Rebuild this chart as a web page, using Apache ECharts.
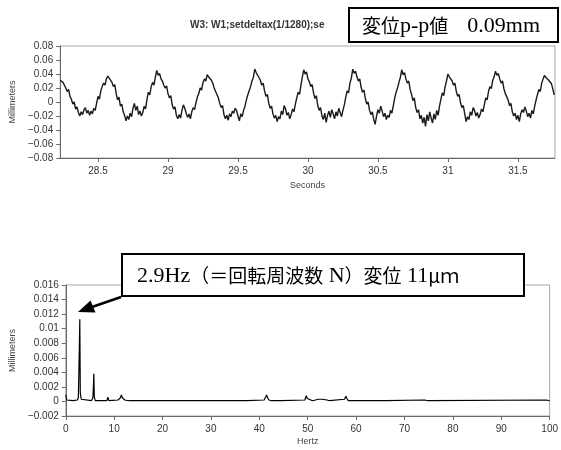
<!DOCTYPE html>
<html><head><meta charset="utf-8">
<script src="https://cdn.jsdelivr.net/npm/echarts@6/dist/echarts.min.js"></script>
<style>html,body{margin:0;padding:0;background:#fff}#c{width:561px;height:450px}</style>
</head><body><div id="c"></div>
<script>
// ---- text ----
const titleText = 'W3: W1;setdeltax(1/1280);se';
const topXName = 'Seconds';
const bottomXName = 'Hertz';
const yName = 'Millimeters';

// ---- time signal: sampled displacement (micrometres), one value per sample ----
const timeStart = 28.23;   // s
const timeStep = 0.01;     // s between samples
const timeMin = 28.23, timeMax = 31.765;
const dispUm = [
  31,33,28,24,20,15,18,8,4,-3,0,-10,-7,-15,-20,-14,-18,-11,-8,-16,-12,-19,-13,-17,-9,-12,-2,8,4,16,22,27,24,33,
  37,34,36,28,22,25,12,3,7,-6,-3,-14,-19,-27,-20,-25,-16,-21,-9,-2,-12,-6,-18,-13,-20,-15,-6,-10,4,14,10,22,28,24,36,
  45,38,41,33,30,24,20,23,12,6,9,-4,-10,-7,-19,-24,-18,-23,-12,-4,-9,-16,-22,-17,-24,-14,-8,-11,-1,7,12,20,17,28,33,30,
  39,36,38,31,27,20,15,17,6,-2,-8,-5,-18,-24,-19,-26,-17,-21,-13,-16,-9,-12,-20,-27,-17,-21,-12,-6,3,10,16,22,30,35,
  47,42,44,35,31,24,27,16,8,11,-2,-9,-6,-17,-23,-19,-28,-21,-24,-13,-18,-5,-10,-19,-15,-24,-18,-10,-14,-3,6,14,11,24,36,
  46,40,43,33,29,22,25,13,5,9,-5,-12,-8,-20,-25,-16,-29,-19,-13,-22,-11,-17,-24,-14,-20,-9,-15,-21,-12,-4,7,16,13,27,34,
  47,41,44,36,30,33,21,14,17,5,-3,0,-12,-18,-14,-25,-32,-20,-11,-16,-6,-13,-21,-16,-25,-19,-22,-12,-16,-5,6,14,20,28,35,
  46,39,42,33,27,30,18,11,2,6,-8,-15,-11,-24,-19,-30,-22,-35,-18,-27,-14,-23,-30,-17,-25,-12,-19,-6,4,13,9,22,30,
  40,36,38,30,24,27,15,8,11,-1,-8,-5,-17,-28,-21,-25,-14,-19,-8,-12,-20,-15,-23,-18,-10,-14,-4,6,3,15,22,19,31,36,
  44,38,41,33,27,30,19,12,14,3,-5,-2,-14,-20,-16,-25,-19,-28,-17,-11,-15,-7,-13,-21,-16,-23,-12,-17,-6,3,11,18,15,27,33,
  38,35,37,31,33,26,18,10
];
const umPerMm = 1000;

// ---- spectrum ----
const freqHz = [0,0.2,0.5,1.5,2.4,2.6,2.8,2.9,3.0,3.2,3.5,5.3,5.6,5.7,5.8,5.9,6.1,8.5,8.7,8.9,10.8,11.3,11.5,11.7,12.2,13,
  17,17.2,17.4,25.6,25.8,26,29,29.2,29.4,33,33.2,33.4,37.4,37.6,37.8,41.0,41.3,41.5,41.7,42.0,42.5,44.5,44.7,44.9,
  49.4,49.7,49.9,50.2,51,52.2,53,54,54.5,57.6,57.9,58.1,58.4,63.2,63.4,63.6,66,66.2,66.4,74.2,74.5,74.8,99.3,99.6,100];
const ampMm = [0.0009,0.0002,0.0001,0.0001,0.0002,0.0005,0.0072,0.0113,0.0012,0.0003,0.0001,0.0001,0.0005,0.0018,0.0038,0.0006,0.0001,0.0001,0.0006,0.0001,0.0002,0.0005,0.0009,0.0005,0.0002,0.0001,
  0.0001,0.0002,0.0001,0.0001,0.0002,0.0001,0.0001,0.0002,0.0001,0.0001,0.0002,0.0001,0.0001,0.0002,0.0001,0.0002,0.0006,0.0009,0.0005,0.0002,0.0001,0.0001,0.0002,0.0001,
  0.0002,0.0008,0.0004,0.0002,0.0001,0.0003,0.0003,0.0002,0.0001,0.0003,0.0007,0.0004,0.0001,0.0001,0.0002,0.0001,0.0001,0.0002,0.0001,0.0002,0.0004,0.0001,0.0002,0.0002,0.0001];

// ---- build ----
const signalData = dispUm.map((v, i) => [+(timeStart + i * timeStep).toFixed(3), v / umPerMm]);
const spectrumData = freqHz.map((f, i) => [f, ampMm[i]]);

const sansFont = '"Liberation Sans", Arial, sans-serif';
const fmtY = v => (v < 0 ? '\u2212' + (-v) : String(v));
const axisCol = '#6a6a6a';
const labelStyle = { color: '#333', fontSize: 10, fontFamily: sansFont };
const nameStyle = { color: '#444', fontSize: 9, fontFamily: sansFont };

const chart = echarts.init(document.getElementById('c'), null, { renderer: 'canvas' });
chart.setOption({
  animation: false,
  backgroundColor: '#fff',
  grid: [
    { left: 60, right: 6, top: 46, height: 112, show: true, borderColor: '#a8a8a8', borderWidth: 1 },
    { left: 60, right: 8, top: 285, height: 131, show: true, borderColor: '#a8a8a8', borderWidth: 1 }
  ],
  xAxis: [
    { gridIndex: 0, type: 'value', min: timeMin, max: timeMax, splitNumber: 7, minInterval: 0.5, maxInterval: 0.5,
      axisLine: { onZero: false, lineStyle: { color: axisCol } },
      axisTick: { length: 4, lineStyle: { color: axisCol } },
      splitLine: { show: false },
      axisLabel: Object.assign({ showMinLabel: false, showMaxLabel: false, margin: 8 }, labelStyle),
      name: topXName, nameLocation: 'middle', nameGap: 23, nameTextStyle: nameStyle },
    { gridIndex: 1, type: 'value', min: 0, max: 100, interval: 10,
      axisLine: { onZero: false, lineStyle: { color: axisCol } },
      axisTick: { length: 4, lineStyle: { color: axisCol } },
      splitLine: { show: false },
      axisLabel: Object.assign({ margin: 8 }, labelStyle),
      name: bottomXName, nameLocation: 'middle', nameGap: 21, nameTextStyle: nameStyle }
  ],
  yAxis: [
    { gridIndex: 0, type: 'value', min: -0.08, max: 0.08, interval: 0.02,
      axisLine: { show: true, lineStyle: { color: axisCol } },
      axisTick: { show: true, length: 4, lineStyle: { color: axisCol } },
      splitLine: { show: false },
      axisLabel: Object.assign({ margin: 7, formatter: fmtY }, labelStyle),
      name: yName, nameLocation: 'middle', nameGap: 40, nameTextStyle: nameStyle },
    { gridIndex: 1, type: 'value', min: -0.002, max: 0.016, interval: 0.002,
      axisLine: { show: true, lineStyle: { color: axisCol } },
      axisTick: { show: true, length: 4, lineStyle: { color: axisCol } },
      splitLine: { show: false },
      axisLabel: Object.assign({ margin: 7, formatter: fmtY }, labelStyle),
      name: yName, nameLocation: 'middle', nameGap: 45, nameTextStyle: nameStyle }
  ],
  series: [
    { type: 'line', xAxisIndex: 0, yAxisIndex: 0, data: signalData, showSymbol: false, silent: true,
      lineStyle: { color: '#1a1a1a', width: 1.4 } },
    { type: 'line', xAxisIndex: 1, yAxisIndex: 1, data: spectrumData, showSymbol: false, silent: true,
      lineStyle: { color: '#000', width: 1.2 } }
  ],
  graphic: [
    { type: 'text', z: 50, left: 190, top: 20,
      style: { text: titleText, font: 'bold 10px ' + sansFont, fill: '#333' } },
    { type: 'rect', z: 60, shape: { x: 349, y: 8, width: 209, height: 34 },
      style: { fill: '#fff', stroke: '#000', lineWidth: 2 } },
    { type: 'text', z: 61, x: 362, y: 26,
      style: { text: '{c|変位}{l|p‐p}{c|値　}{l|0.09mm}', verticalAlign: 'middle', fill: '#000',
        rich: { c: { fontSize: 19, fontFamily: '"Noto Sans CJK JP"', fill: '#000' },
                l: { fontSize: 22, fontFamily: '"Liberation Serif", serif', fill: '#000' } } } },
    { type: 'rect', z: 60, shape: { x: 122, y: 254, width: 402, height: 42 },
      style: { fill: '#fff', stroke: '#000', lineWidth: 2 } },
    { type: 'text', z: 61, x: 137, y: 276,
      style: { text: '{l|2.9Hz}{c|（＝回転周波数}{l| N}{c|）変位}{l| 11}{c|μｍ}', verticalAlign: 'middle', fill: '#000',
        rich: { c: { fontSize: 19, fontFamily: '"Noto Sans CJK JP"', fill: '#000' },
                l: { fontSize: 22, fontFamily: '"Liberation Serif", serif', fill: '#000' } } } },
    { type: 'line', z: 62, shape: { x1: 121, y1: 297, x2: 92, y2: 307 },
      style: { stroke: '#000', lineWidth: 2.5 } },
    { type: 'polygon', z: 62, shape: { points: [[78, 312], [95.5, 312.5], [90.5, 300.5]] },
      style: { fill: '#000' } }
  ]
});
</script></body></html>
